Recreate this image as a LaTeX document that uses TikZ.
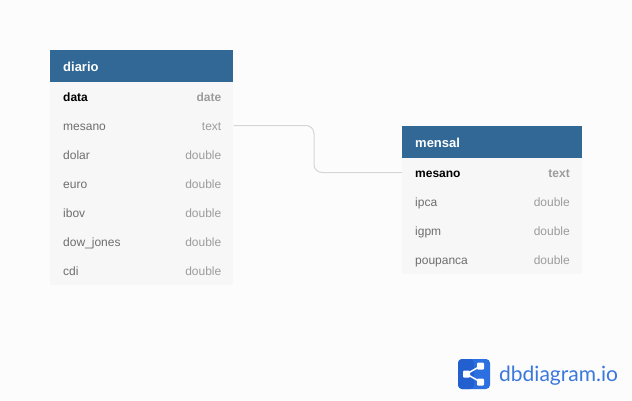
\documentclass[tikz,border=0pt]{standalone}
\usepackage{fontspec}
\setmainfont{Liberation Sans}
\newfontfamily\logofont{Lato}
\definecolor{bgc}{HTML}{FCFCFC}
\definecolor{headc}{HTML}{316896}
\definecolor{rowc}{HTML}{F7F7F7}
\definecolor{greyc}{HTML}{6E6E6E}
\definecolor{typec}{HTML}{9C9C9C}
\definecolor{linec}{HTML}{D6D6D6}
\definecolor{logoa}{HTML}{2B6FE0}
\definecolor{logob}{HTML}{2260D0}
\definecolor{logot}{HTML}{3B78DC}
\tikzset{
  headbox/.style={fill=headc,draw=none,anchor=north west,inner sep=0pt,minimum height=32pt},
  rowbox/.style={fill=rowc,draw=none,anchor=north west,inner sep=0pt,minimum height=29pt},
  headtext/.style={text=white,font=\fontsize{13}{15}\selectfont\bfseries,anchor=base west,inner sep=0pt},
  nametext/.style={text=greyc,font=\fontsize{12}{14}\selectfont,anchor=base west,inner sep=0pt},
  keytext/.style={text=black,font=\fontsize{12}{14}\selectfont\bfseries,anchor=base west,inner sep=0pt},
  typetext/.style={text=typec,font=\fontsize{12}{14}\selectfont,anchor=base east,inner sep=0pt},
  keytype/.style={text=typec,font=\fontsize{12}{14}\selectfont\bfseries,anchor=base east,inner sep=0pt},
  relline/.style={draw=linec,line width=1pt,rounded corners=8pt},
  sharedot/.style={fill=white,draw=none,rounded corners=1pt,minimum size=7pt,inner sep=0pt}
}
\begin{document}
\begin{tikzpicture}[x=1pt,y=-1pt]
\path[use as bounding box,fill=bgc] (0,0) rectangle (632,400);
% diario
\node[rowbox,minimum width=183pt,minimum height=203pt] (diariobody) at (50,82) {};
\node[headbox,minimum width=183pt] (diario) at (50,50) {};
\node[headtext] (diariot) at (63,71) {diario};
\node[keytext] (d1) at (63,101) {data};
\node[keytype] (d1t) at (221.5,101) {date};
\node[nametext] (d2) at (63,130) {mesano};
\node[typetext] (d2t) at (221.5,130) {text};
\node[nametext] (d3) at (63,159) {dolar};
\node[typetext] (d3t) at (221.5,159) {double};
\node[nametext] (d4) at (63,188) {euro};
\node[typetext] (d4t) at (221.5,188) {double};
\node[nametext] (d5) at (63,217) {ibov};
\node[typetext] (d5t) at (221.5,217) {double};
\node[nametext] (d6) at (63,246) {dow\_jones};
\node[typetext] (d6t) at (221.5,246) {double};
\node[nametext] (d7) at (63,275) {cdi};
\node[typetext] (d7t) at (221.5,275) {double};
% mensal
\node[rowbox,minimum width=180pt,minimum height=116pt] (mensalbody) at (402,158) {};
\node[headbox,minimum width=180pt] (mensal) at (402,126) {};
\node[headtext] (mensalt) at (415,147) {mensal};
\node[keytext] (m1) at (415,177) {mesano};
\node[keytype] (m1t) at (570,177) {text};
\node[nametext] (m2) at (415,206) {ipca};
\node[typetext] (m2t) at (570,206) {double};
\node[nametext] (m3) at (415,235) {igpm};
\node[typetext] (m3t) at (570,235) {double};
\node[nametext] (m4) at (415,264) {poupanca};
\node[typetext] (m4t) at (570,264) {double};
% connector
\coordinate (relA) at (233.5,125.5);
\coordinate (relB) at (402,172.5);
\draw[relline] (relA) -- (314,125.5) -- (314,172.5) -- (relB);
% logo
\fill[logoa,rounded corners=4pt] (458,359) rectangle (490,389);
\fill[logob,rounded corners=4pt] (458,389) -- (458,359) -- (474,359) -- (474,389) -- cycle;
\node[sharedot] (sa) at (466.5,374) {};
\node[sharedot] (sb) at (480.5,366) {};
\node[sharedot] (sc) at (480.5,382) {};
\draw[white,line width=1.5pt] (sb.center) -- (sa.center) -- (sc.center);
\node[text=logot,font=\logofont\fontsize{21}{26}\selectfont,anchor=base west,inner sep=0pt] (logotext) at (499,381.5) {dbdiagram.io};
\end{tikzpicture}
\end{document}
